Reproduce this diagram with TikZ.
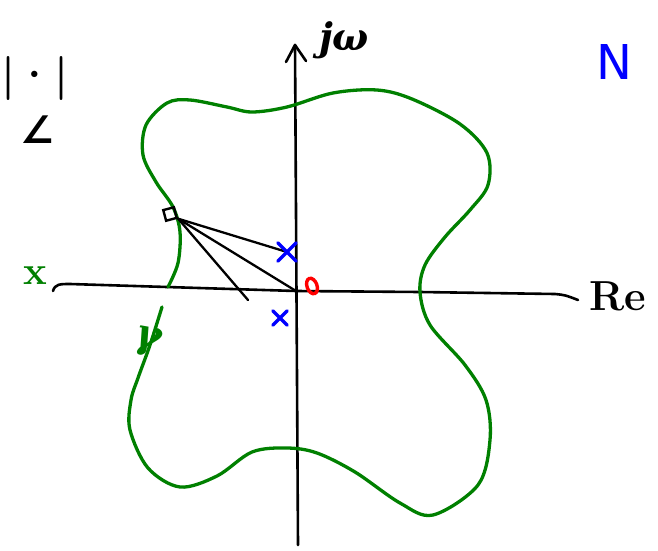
\documentclass[tikz,border=0pt]{standalone}
\usepackage{fontspec}
\usetikzlibrary{shapes.geometric}
\newfontfamily\handsans{DejaVu Sans}
\newfontfamily\symf{DejaVu Serif}
\begin{document}
\begin{tikzpicture}[x=1pt,y=-1pt,
  axisline/.style={line width=2.6pt,line cap=round,line join=round,black},
  contour/.style={line width=3.3pt,draw=green!50!black,line cap=round},
  ray/.style={line width=2.3pt,line cap=round,black},
  crossmark/.style={line width=3.4pt,line cap=round,blue},
  lbl/.style={inner sep=0pt}]
\useasboundingbox (0,0) rectangle (658,551);
\fill[white] (0,0) rectangle (658,551);
% axes
\coordinate (hstart) at (53,291);
\coordinate (hend) at (578,300);
\coordinate (vbot) at (298,545);
\coordinate (vtop) at (295,45);
\coordinate (orig) at (296,291);
\draw[axisline] (hstart) .. controls (55,284) and (60,284) .. (70,284) -- (orig) -- (420,292) -- (555,294) .. controls (565,295) .. (hend);
\draw[axisline] (vbot) -- (vtop);
\draw[axisline] (286,62) -- (vtop) -- (306,61);
% contour
\draw[contour] plot[smooth,tension=0.55] coordinates {(168,287) (178,263) (180,232) (173,207) (156,182) (143,155) (146,125) (167,103) (190,100) (227,107) (252,112) (287,107) (333,93) (377,90) (412,99) (460,124) (487,153) (488,185) (470,210) (445,237) (425,265) (420,292) (430,325) (465,365) (486,400) (490,440) (478,485) (433,515) (400,503) (355,472) (317,453) (287,448) (252,452) (217,476) (180,487) (148,468) (130,430) (131,400) (138,378) (150,345) (162,307)};
\node[lbl,text=green!50!black,font=\fontsize{40}{40}\selectfont\symf\bfseries\itshape,rotate=-10] (gam) at (148,342) {γ};
% square and rays
\node[draw,line width=2.4pt,minimum size=11pt,inner sep=0pt,rotate=15] (sq) at (170,214) {};
\coordinate (rayend) at (248,300);
\node[crossmark,inner sep=0pt,minimum size=15pt] (p1) at (287,252) {};
\node[crossmark,inner sep=0pt,minimum size=11pt] (p2) at (280,318) {};
\draw[ray] (sq.south east) -- (p1.center);
\draw[ray] (sq.south east) -- (orig);
\draw[ray] (sq.south east) -- (rayend);
\draw[crossmark] (p1.north west) -- (p1.south east) (p1.north east) -- (p1.south west);
\draw[crossmark] (p2.north west) -- (p2.south east) (p2.north east) -- (p2.south west);
\node[draw=red,line width=3.4pt,ellipse,inner sep=0pt,minimum width=10pt,minimum height=16pt,rotate=20] (zero) at (312,286) {};
% labels
\node[lbl,font=\fontsize{38}{38}\selectfont\symf\bfseries\itshape] (jw) at (344,40) {jω};
\node[lbl,font=\fontsize{42}{42}\selectfont\bfseries] (re) at (618,296) {Re};
\node[lbl,text=blue,font=\fontsize{48}{48}\selectfont\handsans] (N) at (614,62) {N};
\node[lbl,font=\fontsize{44}{44}\selectfont\bfseries] (abs) at (35,78) {|·|};
\node[lbl,font=\fontsize{38}{38}\selectfont\handsans\bfseries] (ang) at (38,130) {∠};
\node[lbl,text=green!50!black,font=\fontsize{40}{40}\selectfont\bfseries] (gx) at (35,276) {x};
\end{tikzpicture}
\end{document}
